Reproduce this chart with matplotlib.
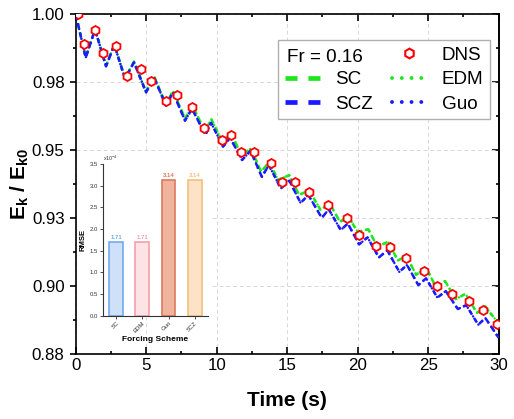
import matplotlib
matplotlib.use('Agg')
import matplotlib.pyplot as plt
from matplotlib.ticker import MultipleLocator
from matplotlib.lines import Line2D
from matplotlib.patches import Rectangle

plt.rcParams['font.family'] = ['Liberation Sans', 'DejaVu Sans']
plt.rcParams['mathtext.fontset'] = 'custom'
plt.rcParams['mathtext.rm'] = 'Liberation Sans'
plt.rcParams['mathtext.bf'] = 'Liberation Sans:bold'
plt.rcParams['mathtext.it'] = 'Liberation Sans:italic'

# DNS reference points
t_dns = [0.18, 0.61, 1.37, 1.96, 2.84, 3.62, 4.61, 5.32, 6.38, 7.21, 8.25, 9.12,
         10.35, 11.01, 11.70, 12.63, 13.82, 14.65, 15.53, 16.56, 17.91, 19.22,
         20.07, 21.30, 22.29, 23.43, 24.72, 25.60, 26.67, 27.89, 28.87, 29.86]
e_dns = [1.0000, 0.9889, 0.9942, 0.9856, 0.9884, 0.9774, 0.9797, 0.9755, 0.9680,
         0.9702, 0.9660, 0.9580, 0.9538, 0.9556, 0.9491, 0.9491, 0.9451, 0.9381,
         0.9381, 0.9346, 0.9299, 0.9248, 0.9187, 0.9147, 0.9142, 0.9101, 0.9055,
         0.8997, 0.8968, 0.8944, 0.8910, 0.8857]

# SC / EDM (green)
t_sc = [0.0, 0.71, 1.37, 2.15, 2.74, 3.50, 4.13, 4.99, 5.55, 6.40, 6.90, 7.75,
        8.30, 9.15, 9.62, 10.40, 11.00, 11.80, 12.42, 13.15, 13.72, 14.35, 15.15,
        15.85, 16.55, 17.35, 18.00, 18.75, 19.30, 20.00, 20.75, 21.40, 22.15,
        22.85, 23.45, 24.15, 24.85, 25.55, 26.20, 26.95, 27.65, 28.45, 29.05, 30.0]
e_sc = [1.0000, 0.9841, 0.9945, 0.9810, 0.9889, 0.9764, 0.9826, 0.9715, 0.9772,
        0.9669, 0.9718, 0.9617, 0.9662, 0.9570, 0.9613, 0.9530, 0.9560, 0.9480,
        0.9506, 0.9420, 0.9455, 0.9390, 0.9407, 0.9334, 0.9352, 0.9280, 0.9303,
        0.9235, 0.9257, 0.9198, 0.9208, 0.9143, 0.9162, 0.9093, 0.9109, 0.9040,
        0.9067, 0.8995, 0.9017, 0.8950, 0.8970, 0.8900, 0.8923, 0.8860]

# SCZ / Guo (blue)
t_scz = [0.0, 0.71, 1.37, 2.15, 2.74, 3.50, 4.13, 4.99, 5.55, 6.40, 6.90, 7.75,
         8.25, 9.20, 9.60, 10.45, 10.95, 11.80, 12.40, 13.20, 13.70, 14.55, 15.15,
         15.95, 16.50, 17.45, 17.95, 18.80, 19.30, 20.10, 20.70, 21.50, 22.10,
         22.95, 23.50, 24.30, 24.85, 25.65, 26.25, 27.10, 27.70, 28.55, 29.05, 30.0]
e_scz = [1.0000, 0.9840, 0.9944, 0.9808, 0.9887, 0.9762, 0.9823, 0.9712, 0.9768,
         0.9663, 0.9712, 0.9608, 0.9652, 0.9556, 0.9600, 0.9512, 0.9545, 0.9463,
         0.9497, 0.9401, 0.9444, 0.9358, 0.9387, 0.9305, 0.9334, 0.9250, 0.9281,
         0.9205, 0.9229, 0.9152, 0.9178, 0.9104, 0.9130, 0.9051, 0.9076, 0.9002,
         0.9027, 0.8956, 0.8980, 0.8914, 0.8928, 0.8856, 0.8881, 0.8808]

# inset: RMSE (x1e-4)
schemes = ['SC', 'EDM', 'Guo', 'SCZ']
rmse = [1.71, 1.71, 3.14, 3.14]
bar_fill = ['#cfe1f8', '#fde3e5', '#f0b39d', '#fce2c6']
bar_edge = ['#72a9ef', '#f2a1a9', '#db7a5c', '#f4c07a']

y_ticks = [0.875, 0.90, 0.925, 0.95, 0.975, 1.00]
y_labels = ['0.88', '0.90', '0.93', '0.95', '0.98', '1.00']

green = '#1ee61e'
blue = '#1a1aff'

fig = plt.figure(figsize=(5.14, 4.19), dpi=100)
ax = fig.add_axes([0.1473, 0.1563, 0.8229, 0.8096])

ax.plot(t_sc, e_sc, color=green, lw=1.8, ls=(0, (2.2, 1.5)), zorder=2)
ax.plot(t_sc, e_sc, color=green, lw=1.8, ls=(0, (0.01, 2.0)), dash_capstyle='round', zorder=2)
ax.plot(t_scz, e_scz, color=blue, lw=1.8, ls=(0, (0.01, 2.0)), dash_capstyle='round', zorder=3)
ax.plot(t_scz, e_scz, color=blue, lw=1.8, ls=(0, (2.2, 1.5)), zorder=3)
ax.plot(t_dns, e_dns, ls='none', marker='h', ms=6.5, mfc='white', mec='red', mew=1.3, zorder=4)

ax.set_xlim(0, 30)
ax.set_ylim(0.875, 1.0)
ax.xaxis.set_major_locator(MultipleLocator(5))
ax.xaxis.set_minor_locator(MultipleLocator(2.5))
ax.set_yticks(y_ticks)
ax.set_yticklabels(y_labels)
ax.yaxis.set_minor_locator(MultipleLocator(0.0125))
ax.tick_params(axis='x', which='both', direction='in', top=True, labelsize=12.2, pad=3)
ax.tick_params(axis='x', which='major', length=5, width=1.2)
ax.tick_params(axis='x', which='minor', length=2.5, width=1.2)
ax.tick_params(axis='y', which='both', direction='out', labelsize=12.2)
ax.tick_params(axis='y', which='major', length=4.5, width=1.2)
ax.tick_params(axis='y', which='minor', length=2.5, width=1.2)
for s in ax.spines.values():
    s.set_linewidth(1.2)

sec = ax.secondary_yaxis('right')
sec.set_yticks(y_ticks)
sec.set_yticklabels([])
sec.yaxis.set_minor_locator(MultipleLocator(0.0125))
sec.tick_params(which='both', direction='in', width=1.2)
sec.tick_params(which='major', length=5)
sec.tick_params(which='minor', length=2.5)
sec.spines['right'].set_linewidth(1.2)

ax.grid(True, which='major', color='#d8d8d8', ls=(0, (4, 3)), lw=0.7)
ax.set_axisbelow(True)

ax.set_xlabel('Time (s)', fontsize=15, fontweight='bold', labelpad=13)
ax.set_ylabel(r'$\mathbf{E_k}$ / $\mathbf{E_{k0}}$', fontsize=15, fontweight='bold')
ax.yaxis.set_label_coords(-0.105, 0.5)

# legend
h_blank = Line2D([], [], color='none')
h_sc = Line2D([], [], color=green, lw=3.4, ls=(0, (2.55, 2.3)))
h_scz = Line2D([], [], color=blue, lw=3.4, ls=(0, (2.55, 2.3)))
h_dns = Line2D([], [], ls='none', marker='h', ms=7, mfc='white', mec='red', mew=1.5)
h_edm = Line2D([], [], color=green, lw=2.8, ls=(0, (0.01, 2.5)), dash_capstyle='round')
h_guo = Line2D([], [], color=blue, lw=2.8, ls=(0, (0.01, 2.5)), dash_capstyle='round')
leg = ax.legend([h_blank, h_sc, h_scz, h_dns, h_edm, h_guo],
                ['', 'SC', 'SCZ', 'DNS', 'EDM', 'Guo'],
                ncol=2, loc='upper right', bbox_to_anchor=(0.9795, 0.9242),
                fontsize=13.6, handlelength=1.85, handletextpad=0.8,
                columnspacing=1.0, labelspacing=0.38, borderpad=0.35,
                borderaxespad=0, fancybox=False, framealpha=1, edgecolor='#b0b0b0')
leg.get_frame().set_linewidth(1.0)
ax.text(0.4988, 0.8732, 'Fr = 0.16', transform=ax.transAxes, va='center', ha='left',
        fontsize=13.6, zorder=6)

# white area behind inset
ax.add_patch(Rectangle((0.004, 0.105), 0.313, 0.489, transform=ax.transAxes,
                       facecolor='white', edgecolor='none', zorder=1))

# inset bar chart
ins = fig.add_axes([0.1998, 0.2465, 0.2054, 0.362])
ins.patch.set_alpha(0)
xs = range(len(schemes))
ins.bar(xs, rmse, width=0.53, color=bar_fill, edgecolor=bar_edge, linewidth=1.2)
for i, v in enumerate(rmse):
    ins.text(i, v + 0.04, f'{v:.2f}', ha='center', va='bottom', fontsize=4.3,
             fontweight='bold', color=bar_edge[i])
ins.set_xlim(-0.52, 3.52)
ins.set_ylim(0, 3.5)
ins.set_xticks(list(xs))
ins.set_xticklabels(schemes, rotation=45, ha='right', rotation_mode='anchor')
ins.yaxis.set_major_locator(MultipleLocator(0.5))
ins.yaxis.set_major_formatter(plt.FormatStrFormatter('%.1f'))
ins.tick_params(labelsize=4.3, length=2, width=0.6, colors='#333333', pad=1.5)
ins.spines['top'].set_visible(False)
ins.spines['right'].set_visible(False)
for s in ['left', 'bottom']:
    ins.spines[s].set_linewidth(0.8)
    ins.spines[s].set_color('#333333')
ins.set_ylabel('RMSE', fontsize=5.5, fontweight='bold', labelpad=2)
ins.set_xlabel('Forcing Scheme', fontsize=6, fontweight='bold', labelpad=2)
ins.text(0.0, 1.01, r'x10$^{-4}$', transform=ins.transAxes, fontsize=3.8,
         ha='left', va='bottom', color='#333333')

fig.savefig('out.png', dpi=100)
